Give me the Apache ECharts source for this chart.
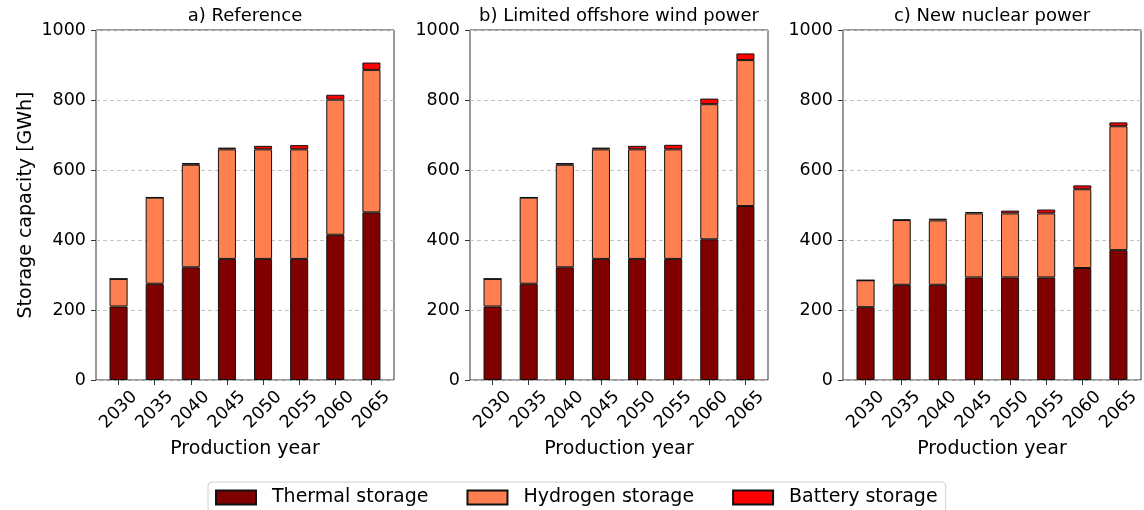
<!DOCTYPE html>
<html>
<head>
<meta charset="utf-8">
<script src="https://cdn.jsdelivr.net/npm/echarts@6/dist/echarts.min.js"></script>
<style>
  html, body { margin: 0; padding: 0; background: #fff; }
  #chart { width: 1144px; height: 510px; }
</style>
</head>
<body>
<div id="chart"></div>
<script>
// Production years on the x axis
const years = ['2030', '2035', '2040', '2045', '2050', '2055', '2060', '2065'];
const yTicks = [0, 200, 400, 600, 800, 1000];

// Storage capacity [GWh] per scenario
const refThermal   = [210, 275, 322, 346, 346, 346, 415, 479];
const refHydrogen  = [79, 246, 293, 313, 313, 313, 386, 407];
const refBattery   = [0, 1, 5, 5, 10, 12, 14, 21];

const windThermal  = [210, 275, 322, 346, 346, 346, 402, 497];
const windHydrogen = [79, 246, 293, 313, 313, 313, 386, 417];
const windBattery  = [0, 1, 5, 5, 10, 13, 16, 19];

const nucThermal   = [208, 272, 272, 293, 293, 293, 320, 371];
const nucHydrogen  = [77, 185, 184, 183, 183, 183, 225, 354];
const nucBattery   = [0, 1, 5, 4, 8, 11, 11, 11];

const panelTitles = ['a) Reference', 'b) Limited offshore wind power', 'c) New nuclear power'];
const seriesNames = ['Thermal storage', 'Hydrogen storage', 'Battery storage'];
const seriesColors = ['#800000', '#FF7F50', '#FF0000'];

const panels = [
  [refThermal, refHydrogen, refBattery],
  [windThermal, windHydrogen, windBattery],
  [nucThermal, nucHydrogen, nucBattery]
];

const FONT = '"DejaVu Sans", sans-serif';
const boxLefts = [96, 470, 843];
const boxWidth = 298;
const gridTop = 30;
const gridHeight = 350;
// Each panel spans 8.25 category steps (bars of width 0.5 plus 5% padding),
// so the category band sits slightly inside the framed box.
const step = boxWidth / 8.25;
const bandInset = step * 0.125;
const bandWidth = step * 8;

const grids = [], xAxes = [], yAxes = [], series = [], graphics = [];

panels.forEach((panel, p) => {
  const frameIdx = p * 2, barIdx = p * 2 + 1;

  // Framed box carrying the y scale, ticks and dashed grid lines
  grids.push({
    left: boxLefts[p], top: gridTop, width: boxWidth, height: gridHeight,
    show: true, borderColor: '#333', borderWidth: 1, backgroundColor: 'transparent',
    outerBoundsMode: 'none', containLabel: false
  });
  xAxes.push({
    gridIndex: frameIdx, type: 'value', min: 0, max: 1,
    axisLine: { show: false }, axisTick: { show: false },
    axisLabel: { show: false }, splitLine: { show: false }
  });
  yAxes.push({
    gridIndex: frameIdx, type: 'value', min: 0, max: 1000, interval: 200,
    name: p === 0 ? 'Storage capacity [GWh]' : '', nameLocation: 'middle', nameGap: 60,
    nameTextStyle: { fontFamily: FONT, fontSize: 19, color: '#000' },
    axisLine: { show: false },
    axisTick: { show: true, length: 5, lineStyle: { color: '#333' } },
    axisLabel: {
      margin: 10, fontFamily: FONT, fontSize: 17.5, color: '#000',
      formatter: v => (yTicks.includes(v) ? String(v) : '')
    },
    splitLine: { show: true, lineStyle: { color: '#c4c4c4', type: [4, 3], width: 1 } }
  });

  // Category band holding the stacked bars
  grids.push({
    left: boxLefts[p] + bandInset, top: gridTop, width: bandWidth, height: gridHeight,
    show: false, outerBoundsMode: 'none', containLabel: false
  });
  xAxes.push({
    gridIndex: barIdx, type: 'category', data: years, boundaryGap: true,
    name: 'Production year', nameLocation: 'middle', nameGap: 57,
    nameTextStyle: { fontFamily: FONT, fontSize: 19, color: '#000' },
    axisLine: { show: false },
    splitLine: { show: false },
    axisTick: { show: true, alignWithLabel: true, length: 5, lineStyle: { color: '#333' } },
    axisLabel: {
      interval: 0, rotate: 45, align: 'center', verticalAlign: 'middle', margin: 30,
      fontFamily: FONT, fontSize: 17.5, color: '#000'
    }
  });
  yAxes.push({
    gridIndex: barIdx, type: 'value', min: 0, max: 1000,
    axisLine: { show: false }, axisTick: { show: false },
    axisLabel: { show: false }, splitLine: { show: false }
  });

  panel.forEach((vals, s) => {
    series.push({
      type: 'bar', name: seriesNames[s], stack: 'panel' + p,
      xAxisIndex: barIdx, yAxisIndex: barIdx, barWidth: '50%',
      data: vals,
      itemStyle: { color: seriesColors[s], borderColor: '#111', borderWidth: 1 },
      emphasis: { disabled: true },
      animation: false
    });
  });

  graphics.push({
    type: 'text', x: boxLefts[p] + boxWidth / 2, y: 16,
    style: {
      text: panelTitles[p], fill: '#000', font: '18px ' + FONT,
      align: 'center', verticalAlign: 'middle'
    }
  });
});

const chart = echarts.init(document.getElementById('chart'), null, { renderer: 'canvas' });
chart.setOption({
  backgroundColor: '#fff',
  animation: false,
  grid: grids,
  xAxis: xAxes,
  yAxis: yAxes,
  series: series,
  graphic: graphics,
  legend: {
    data: seriesNames,
    left: 208, top: 482,
    orient: 'horizontal',
    itemWidth: 40, itemHeight: 14, itemGap: 38,
    padding: [6, 8, 10, 7],
    borderColor: '#d0d0d0', borderWidth: 1, borderRadius: 4,
    backgroundColor: '#fff',
    icon: 'rect',
    selectedMode: false,
    textStyle: { fontFamily: FONT, fontSize: 19, color: '#000', padding: [0, 0, 0, 11] }
  }
});
</script>
</body>
</html>
